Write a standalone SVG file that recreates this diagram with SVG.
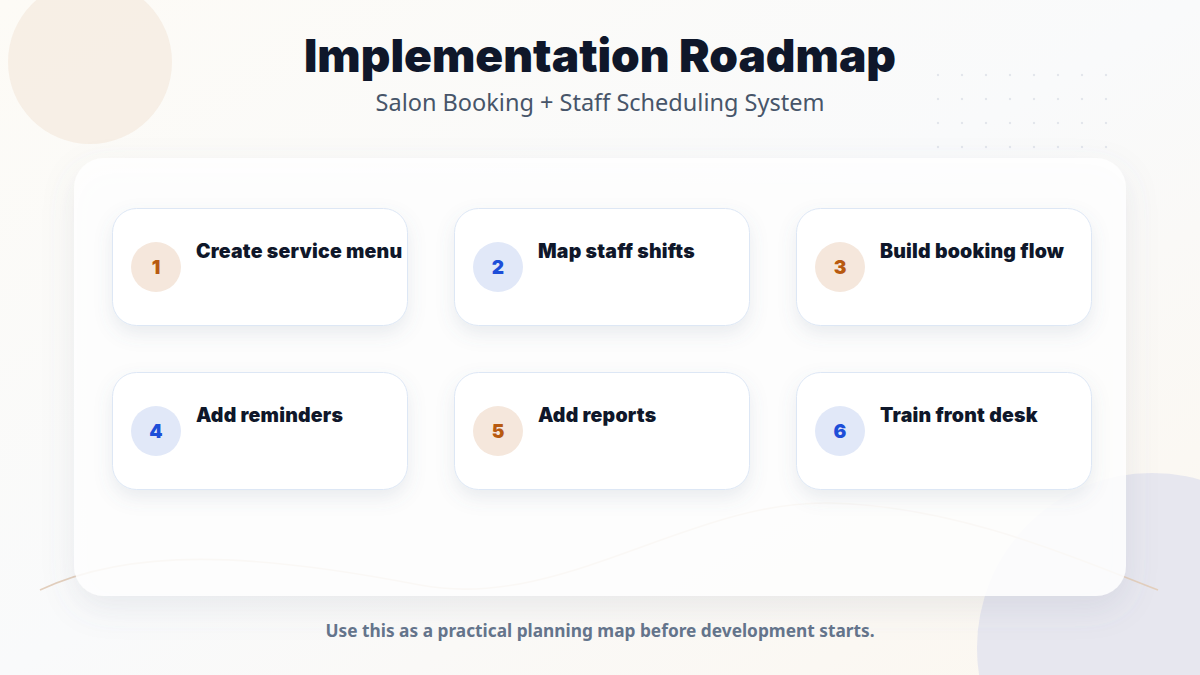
<svg xmlns="http://www.w3.org/2000/svg" width="1200" height="675" viewBox="0 0 1200 675">
<defs>
<linearGradient id="bg" x1="0" y1="0" x2="1" y2="1">
<stop offset="0" stop-color="#fdfbf6"/>
<stop offset="0.5" stop-color="#f9fafb"/>
<stop offset="1" stop-color="#fcf7ef"/>
</linearGradient>
<filter id="panelShadow" x="-10%" y="-10%" width="120%" height="130%">
<feDropShadow dx="0" dy="12" stdDeviation="16" flood-color="#64748b" flood-opacity="0.14"/>
</filter>
<filter id="cardShadow" x="-15%" y="-20%" width="130%" height="160%">
<feDropShadow dx="0" dy="8" stdDeviation="9" flood-color="#64748b" flood-opacity="0.13"/>
</filter>
<pattern id="dots" x="926" y="63" width="24" height="24" patternUnits="userSpaceOnUse">
<circle cx="12" cy="12" r="1.2" fill="#e3e6ec"/>
</pattern>
<style>
.title{font-family:Inter,"Liberation Sans",sans-serif;font-weight:900;font-size:46px;fill:#0f172a}
.sub{font-family:"Noto Sans","Liberation Sans",sans-serif;font-weight:400;font-size:23.5px;fill:#475569}
.foot{font-family:"Noto Sans","Liberation Sans",sans-serif;font-weight:700;font-size:17.3px;fill:#64748b}
.card{fill:#ffffff;stroke:#dde7f5;stroke-width:1}
.label{font-family:Inter,"Liberation Sans",sans-serif;font-weight:900;font-size:19.5px;letter-spacing:0.2px;fill:#0f172a}
.num{font-family:Inter,"Liberation Sans",sans-serif;font-weight:900;font-size:19px;text-anchor:middle}
.warm .badge{fill:#f5e7dc}
.warm .num{fill:#b85a10}
.cool .badge{fill:#e1e8f8}
.cool .num{fill:#1d4ed8}
</style>
</defs>
<rect width="1200" height="675" fill="url(#bg)"/>
<circle cx="90" cy="62" r="82" fill="#f6ede3" opacity="0.9"/>
<circle cx="1152" cy="648" r="175" fill="#e4e4ee" opacity="0.9"/>
<rect x="926" y="63" width="192" height="96" fill="url(#dots)"/>
<path d="M40 590 C 130 548, 250 552, 420 585 C 560 612, 690 500, 830 503 C 960 506, 1080 560, 1158 590" fill="none" stroke="#e3cfbd" stroke-width="1.6"/>

<g id="header">
<text class="title" x="600" y="72" text-anchor="middle">Implementation Roadmap</text>
<text class="sub" x="600" y="111" text-anchor="middle">Salon Booking + Staff Scheduling System</text>
</g>

<g id="panel">
<rect x="74" y="158" width="1052" height="438" rx="30" fill="#ffffff" fill-opacity="0.86" filter="url(#panelShadow)"/>
</g>

<g id="connectors"></g>

<g id="step1" class="warm">
<rect class="card" x="112.5" y="208.5" width="295" height="117" rx="24" filter="url(#cardShadow)"/>
<circle class="badge" cx="156" cy="267" r="25"/>
<text class="num" x="156" y="274">1</text>
<text class="label" x="196" y="258">Create service menu</text>
</g>
<g id="step2" class="cool">
<rect class="card" x="454.5" y="208.5" width="295" height="117" rx="24" filter="url(#cardShadow)"/>
<circle class="badge" cx="498" cy="267" r="25"/>
<text class="num" x="498" y="274">2</text>
<text class="label" x="538" y="258">Map staff shifts</text>
</g>
<g id="step3" class="warm">
<rect class="card" x="796.5" y="208.5" width="295" height="117" rx="24" filter="url(#cardShadow)"/>
<circle class="badge" cx="840" cy="267" r="25"/>
<text class="num" x="840" y="274">3</text>
<text class="label" x="880" y="258">Build booking flow</text>
</g>
<g id="step4" class="cool">
<rect class="card" x="112.5" y="372.5" width="295" height="117" rx="24" filter="url(#cardShadow)"/>
<circle class="badge" cx="156" cy="431" r="25"/>
<text class="num" x="156" y="438">4</text>
<text class="label" x="196" y="422">Add reminders</text>
</g>
<g id="step5" class="warm">
<rect class="card" x="454.5" y="372.5" width="295" height="117" rx="24" filter="url(#cardShadow)"/>
<circle class="badge" cx="498" cy="431" r="25"/>
<text class="num" x="498" y="438">5</text>
<text class="label" x="538" y="422">Add reports</text>
</g>
<g id="step6" class="cool">
<rect class="card" x="796.5" y="372.5" width="295" height="117" rx="24" filter="url(#cardShadow)"/>
<circle class="badge" cx="840" cy="431" r="25"/>
<text class="num" x="840" y="438">6</text>
<text class="label" x="880" y="422">Train front desk</text>
</g>

<g id="footer">
<text class="foot" x="600" y="637" text-anchor="middle">Use this as a practical planning map before development starts.</text>
</g>
</svg>
